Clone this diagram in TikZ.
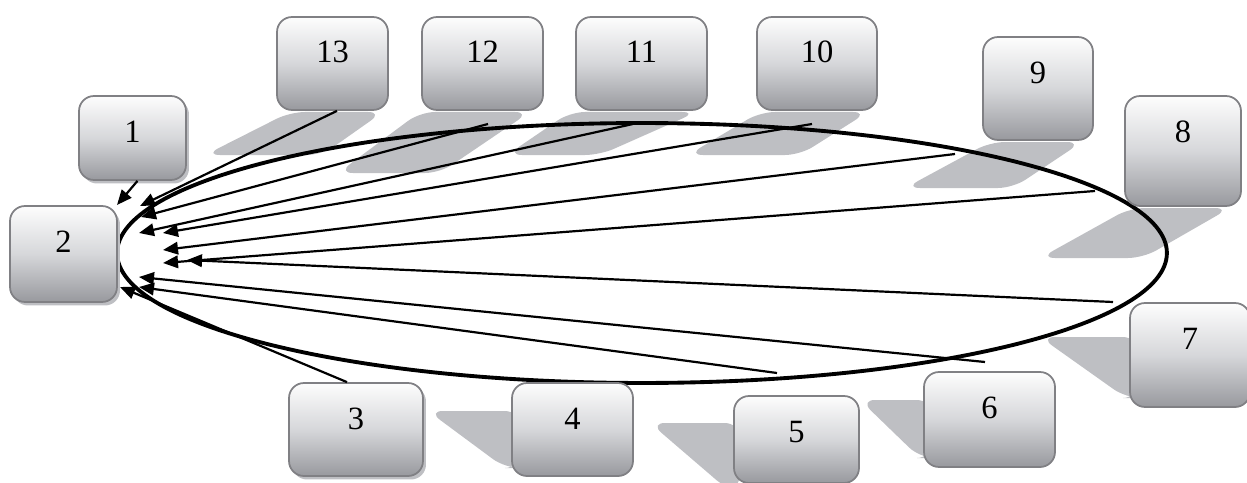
\documentclass[tikz,border=0pt]{standalone}
\usepackage{fontspec}
\setmainfont{Liberation Serif}
\usetikzlibrary{arrows.meta,shadows}
\definecolor{shadowgray}{RGB}{190,191,195}
\definecolor{boxline}{RGB}{128,128,132}
\definecolor{boxtop}{RGB}{253,253,253}
\definecolor{boxmid}{RGB}{214,215,218}
\definecolor{boxbottom}{RGB}{152,153,158}
\tikzset{
  box/.style={draw=boxline, line width=1pt, rounded corners=0.3cm, inner sep=0pt,
    top color=boxtop, bottom color=boxbottom, middle color=boxmid,
    font=\fontsize{18.5}{20}\selectfont, minimum height=#1,
    text height=0.92cm, text depth=#1-0.92cm},
  flat/.style={fill=shadowgray, rounded corners=0.3cm},
  lift/.style={drop shadow={shadow xshift=0.06cm, shadow yshift=-0.07cm, fill=shadowgray, opacity=1}},
  ring/.style={line width=2.2pt},
  link/.style={line width=1.25pt, -{Triangle[length=0.3cm,width=0.25cm]}}
}
\begin{document}
\begin{tikzpicture}[x=0.02cm, y=-0.02cm]
\useasboundingbox (0,0) rectangle (1247,483);
\clip (0,0) rectangle (1247,483);

\fill[flat] (290,112) -- (383,112) -- (322,155) -- (205,155) -- cycle;
\fill[flat] (420,112) -- (530,112) -- (440,173) -- (338,173) -- cycle;
\fill[flat] (570,112) -- (697,112) -- (600,155) -- (507,155) -- cycle;
\fill[flat] (760,112) -- (868,112) -- (800,155) -- (688,155) -- cycle;
\fill[flat] (990,142) -- (1082,142) -- (1013,188) -- (905,188) -- cycle;
\fill[flat] (1130,208) -- (1230,208) -- (1143,258) -- (1040,258) -- cycle;
\fill[flat] (428,411) -- (520,411) -- (520,468) -- (505,468) -- cycle;
\fill[flat] (650,423) -- (740,423) -- (740,490) -- (728,490) -- cycle;
\fill[flat] (860,400) -- (932,400) -- (932,458) -- (920,458) -- cycle;
\fill[flat] (1040,337) -- (1138,337) -- (1138,398) -- (1126,398) -- cycle;

\draw[ring] (642,253) ellipse [x radius=10.5cm, y radius=2.6cm];

\node (b1) [box=1.68cm, minimum width=2.14cm, lift] at (132.5,138) {1};
\node (b2) [box=1.92cm, minimum width=2.14cm, lift] at (63.5,254) {2};
\node (b3) [box=1.86cm, minimum width=2.68cm, lift] at (356,429.5) {3};
\node (b4) [box=1.86cm, minimum width=2.42cm] at (572.5,429.5) {4};
\node (b5) [box=1.74cm, minimum width=2.5cm] at (796.5,439.5) {5};
\node (b6) [box=1.9cm, minimum width=2.62cm] at (989.5,419.5) {6};
\node (b7) [box=2.08cm, minimum width=2.4cm] at (1190,355) {7};
\node (b8) [box=2.2cm, minimum width=2.32cm] at (1183,151) {8};
\node (b9) [box=2.06cm, minimum width=2.2cm] at (1038,88.5) {9};
\node (b10) [box=1.86cm, minimum width=2.4cm] at (817,63.5) {10};
\node (b11) [box=1.86cm, minimum width=2.62cm] at (641.5,63.5) {11};
\node (b12) [box=1.86cm, minimum width=2.42cm] at (482.5,63.5) {12};
\node (b13) [box=1.86cm, minimum width=2.22cm] at (332.5,63.5) {13};

\coordinate (s12) at (488,124);
\coordinate (s11) at (633,124);
\coordinate (s10) at (812,124);
\coordinate (s9) at (955,154);
\coordinate (s8) at (1095,191);
\coordinate (s7) at (1113,302);
\coordinate (s6) at (985,362);
\coordinate (s5) at (777,373);

\coordinate (t1) at (117,205);
\coordinate (t13) at (140,206);
\coordinate (t12) at (141,217);
\coordinate (t11) at (139,233);
\coordinate (t10) at (163,233);
\coordinate (t9) at (163,250);
\coordinate (t8) at (163,263);
\coordinate (t7) at (187,260);
\coordinate (t6) at (139,277);
\coordinate (t5) at (139,287);
\coordinate (t3) at (120,287);

\draw[link] ([xshift=0.1cm]b1.south) -- (t1);
\draw[link] ([xshift=0.09cm]b13.south) -- (t13);
\draw[link] ([xshift=-0.18cm]b3.north) -- (t3);
\foreach \n in {12,11,10,9,8,7,6,5}
  \draw[link] (s\n) -- (t\n);
\end{tikzpicture}
\end{document}
